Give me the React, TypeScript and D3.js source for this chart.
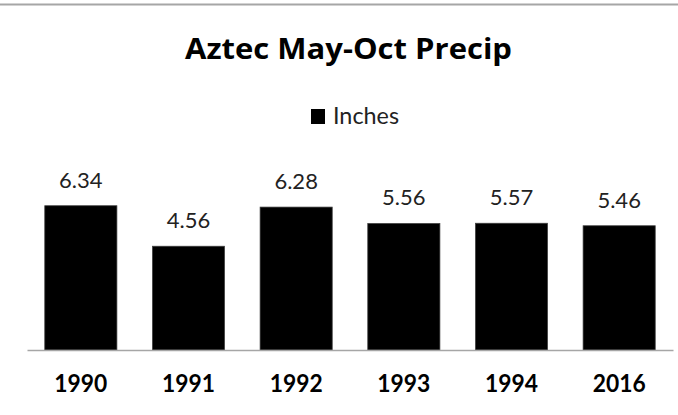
import React, { useEffect, useRef } from 'react';
import * as d3 from 'd3';

const years = ['1990', '1991', '1992', '1993', '1994', '2016'];
const inches = [6.34, 4.56, 6.28, 5.56, 5.57, 5.46];
const chartTitle = 'Aztec May-Oct Precip';
const seriesName = 'Inches';

const App: React.FC = () => {
  const svgRef = useRef<SVGSVGElement>(null);

  useEffect(() => {
    if (!svgRef.current) return;
    const svg = d3.select(svgRef.current);
    svg.selectAll('*').remove();

    const width = 678;
    const height = 415;
    const font = 'Lato, "Open Sans", sans-serif';

    svg.attr('width', width).attr('height', height);

    // chart frame (only top edge visible)
    svg.append('line')
       .attr('x1', 0).attr('x2', width)
       .attr('y1', 4.5).attr('y2', 4.5)
       .attr('stroke', '#a6a6a6')
       .attr('stroke-width', 2);

    const plot = { left: 27, right: 673, bottom: 350 };

    const x = d3.scaleBand()
                .domain(years)
                .range([plot.left, plot.right])
                .paddingInner(0.33)
                .paddingOuter(0.165);

    const y = d3.scaleLinear()
                .domain([0, 7])
                .range([plot.bottom, plot.bottom - 159.3]);

    // title
    svg.append('text')
       .attr('x', 348.5)
       .attr('y', 59)
       .attr('text-anchor', 'middle')
       .attr('font-family', '"Open Sans", sans-serif')
       .attr('font-weight', 'bold')
       .attr('font-size', 29)
       .attr('textLength', 327)
       .attr('lengthAdjust', 'spacingAndGlyphs')
       .attr('fill', '#000')
       .text(chartTitle);

    // legend
    const legend = svg.append('g').attr('transform', 'translate(311,109)');
    legend.append('rect')
          .attr('width', 14).attr('height', 15)
          .attr('fill', '#000');
    legend.append('text')
          .attr('x', 22).attr('y', 15)
          .attr('font-family', font)
          .attr('font-size', 23.5)
          .attr('textLength', 66)
          .attr('lengthAdjust', 'spacingAndGlyphs')
          .attr('fill', '#222')
          .text(seriesName);

    // bars
    svg.selectAll('.bar')
       .data(years)
       .enter()
       .append('rect')
       .attr('class', 'bar')
       .attr('x', d => x(d) || 0)
       .attr('y', (d, i) => y(inches[i]))
       .attr('width', x.bandwidth())
       .attr('height', (d, i) => y(0) - y(inches[i]))
       .attr('fill', '#000')
       .attr('stroke', '#404040')
       .attr('stroke-width', 0.75);

    // value labels
    svg.selectAll('.value-label')
       .data(years)
       .enter()
       .append('text')
       .attr('class', 'value-label')
       .attr('x', d => (x(d) || 0) + x.bandwidth() / 2)
       .attr('y', (d, i) => y(inches[i]) - 18)
       .attr('text-anchor', 'middle')
       .attr('font-family', font)
       .attr('font-size', 22)
       .attr('fill', '#222')
       .text((d, i) => inches[i].toFixed(2));

    // x axis
    const axis = svg.append('g')
                    .attr('transform', `translate(0,${plot.bottom})`)
                    .call(d3.axisBottom(x).tickSize(0));
    axis.select('.domain')
        .attr('stroke', '#a6a6a6')
        .attr('stroke-width', 1.5);
    axis.selectAll('text')
        .attr('y', 42)
        .attr('dy', null)
        .attr('font-family', font)
        .attr('font-weight', 'bold')
        .attr('font-size', 25)
        .attr('textLength', 53)
        .attr('lengthAdjust', 'spacingAndGlyphs')
        .attr('fill', '#000');
  }, []);

  return (
    <svg ref={svgRef} style={{ position: 'absolute', left: 0, top: 0, background: '#fff' }}></svg>
  );
};

export default App;
